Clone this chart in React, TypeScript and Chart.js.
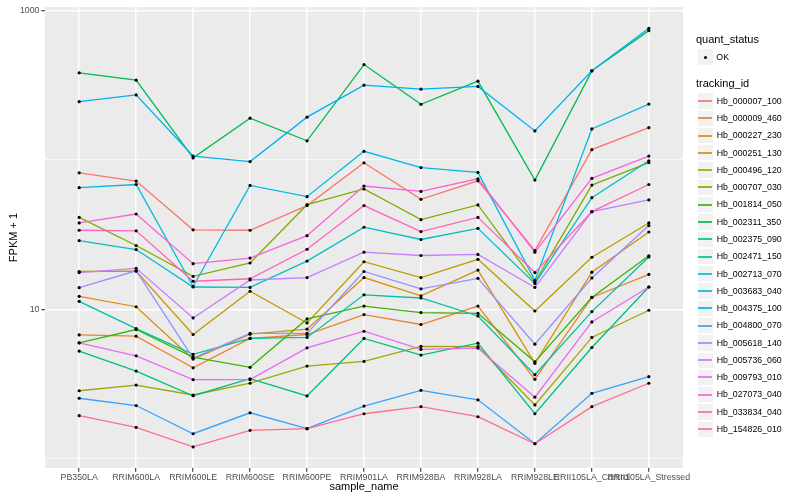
import React, { useEffect, useRef } from "react";
import { Chart, registerables } from "chart.js";

Chart.register(...registerables);

const FONT = "'Liberation Sans', Arial, Helvetica, sans-serif";

const categories = [
  "PB350LA",
  "RRIM600LA",
  "RRIM600LE",
  "RRIM600SE",
  "RRIM600PE",
  "RRIM901LA",
  "RRIM928BA",
  "RRIM928LA",
  "RRIM928LE",
  "RRII105LA_Control",
  "RRII105LA_Stressed",
];

const trackingIds = [
  "Hb_000007_100",
  "Hb_000009_460",
  "Hb_000227_230",
  "Hb_000251_130",
  "Hb_000496_120",
  "Hb_000707_030",
  "Hb_001814_050",
  "Hb_002311_350",
  "Hb_002375_090",
  "Hb_002471_150",
  "Hb_002713_070",
  "Hb_003683_040",
  "Hb_004375_100",
  "Hb_004800_070",
  "Hb_005618_140",
  "Hb_005736_060",
  "Hb_009793_010",
  "Hb_027073_040",
  "Hb_033834_040",
  "Hb_154826_010",
];

const seriesColors = [
  "#F8766D", "#EA8331", "#D89000", "#C09B00", "#A3A500",
  "#7CAE00", "#39B600", "#00BB4E", "#00BF7D", "#00C1A3",
  "#00BFC4", "#00BAE0", "#00B0F6", "#35A2FF", "#9590FF",
  "#C77CFF", "#E76BF3", "#FA62DB", "#FF62BC", "#FF6C91",
];

const quantStatus = ["OK"];

const tickValues = [1, 10, 100, 1000];
const labeledTicks = [10, 1000];

const hb_000007_100 = [81.9, 72.1, 34.0, 33.8, 49.4, 95.5, 54.4, 72.4, 24.7, 117, 164];
const hb_000009_460 = [6.74, 6.61, 4.06, 6.38, 6.78, 9.22, 7.91, 10.5, 3.4, 12.0, 17.1];
const hb_000227_230 = [12.2, 10.4, 4.64, 6.81, 7.36, 16.3, 12.3, 18.3, 4.35, 17.7, 32.9];
const hb_000251_130 = [17.9, 18.0, 6.78, 13.2, 8.1, 20.8, 16.3, 21.6, 9.74, 22.3, 37.8];
const hb_000496_120 = [2.85, 3.11, 2.67, 3.2, 4.17, 4.48, 5.64, 5.62, 2.29, 6.48, 9.85];
const hb_000707_030 = [41.2, 26.7, 16.6, 20.4, 50.1, 63.8, 39.8, 49.9, 15.2, 67.8, 95.9];
const hb_001814_050 = [5.96, 7.32, 4.79, 4.09, 8.62, 10.5, 9.51, 9.4, 4.45, 12.0, 22.8];
const hb_002311_350 = [382, 341, 103, 190, 134, 434, 235, 336, 73.2, 394, 732];
const hb_002375_090 = [5.25, 3.86, 2.64, 3.43, 2.63, 6.38, 4.94, 5.93, 2.0, 5.55, 14.1];
const hb_002471_150 = [11.3, 7.43, 4.99, 6.38, 6.48, 12.5, 11.9, 9.02, 3.65, 9.65, 22.4];
const hb_002713_070 = [28.8, 25.1, 14.1, 14.0, 21.0, 35.4, 29.3, 34.8, 14.9, 55.8, 98.5];
const hb_003683_040 = [65.1, 68.4, 14.2, 67.4, 56.7, 114, 88.8, 82.3, 15.6, 161, 236];
const hb_004375_100 = [245, 272, 106, 97.4, 193, 316, 297, 310, 156, 394, 759];
const hb_004800_070 = [2.54, 2.27, 1.47, 2.03, 1.59, 2.25, 2.87, 2.48, 1.26, 2.74, 3.54];
const hb_005618_140 = [13.95, 18.1, 4.71, 6.89, 6.89, 17.9, 13.7, 16.1, 5.84, 16.2, 36.3];
const hb_005736_060 = [17.6, 18.8, 8.75, 15.7, 16.3, 24.1, 22.9, 23.3, 14.0, 45.0, 53.9];
const hb_009793_010 = [5.96, 4.88, 3.38, 3.38, 5.52, 7.13, 5.39, 5.5, 2.58, 8.23, 14.1];
const hb_027073_040 = [37.8, 43.4, 20.2, 22.0, 31.1, 66.8, 61.5, 74.7, 24.1, 75.1, 106];
const hb_033834_040 = [33.8, 33.5, 15.4, 16.0, 25.2, 49.4, 33.1, 41.2, 17.6, 45.0, 68.4];
const hb_154826_010 = [1.94, 1.62, 1.2, 1.55, 1.59, 2.0, 2.23, 1.91, 1.26, 2.23, 3.2];

const seriesValues = [
  hb_000007_100, hb_000009_460, hb_000227_230, hb_000251_130, hb_000496_120,
  hb_000707_030, hb_001814_050, hb_002311_350, hb_002375_090, hb_002471_150,
  hb_002713_070, hb_003683_040, hb_004375_100, hb_004800_070, hb_005618_140,
  hb_005736_060, hb_009793_010, hb_027073_040, hb_033834_040, hb_154826_010,
];

const panelBackground = {
  id: "panelBackground",
  beforeDraw(chart: any) {
    const { ctx, chartArea } = chart;
    if (!chartArea) return;
    ctx.save();
    ctx.fillStyle = "#EBEBEB";
    ctx.fillRect(chartArea.left, chartArea.top, chartArea.right - chartArea.left, chartArea.bottom - chartArea.top);
    ctx.restore();
  },
};

export default function App() {
  const ref = useRef<HTMLCanvasElement>(null);

  useEffect(() => {
    if (!ref.current) return;
    const lineSets = seriesValues.map((vals, i) => ({
      label: trackingIds[i],
      data: vals.map((v, j) => ({ x: j, y: v })),
      borderColor: seriesColors[i],
      backgroundColor: seriesColors[i],
      borderWidth: 1.3,
      pointRadius: 0,
      fill: false,
      tension: 0,
      order: 100 - i,
    }));
    const pointSets = seriesValues.map((vals, i) => ({
      label: trackingIds[i] + " " + quantStatus[0],
      data: vals.map((v, j) => ({ x: j, y: v })),
      showLine: false,
      pointRadius: 1.6,
      pointBackgroundColor: "#000000",
      pointBorderWidth: 0,
      borderColor: "#000000",
      order: -1,
    }));

    const chart = new Chart(ref.current, {
      type: "line",
      data: { datasets: [...lineSets, ...pointSets] as any },
      plugins: [panelBackground],
      options: {
        animation: false,
        responsive: false,
        events: [],
        layout: { padding: { left: 0, right: 117, top: 5, bottom: 0 } },
        plugins: { legend: { display: false }, tooltip: { enabled: false } },
        scales: {
          x: {
            type: "linear",
            min: -0.6,
            max: 10.6,
            afterBuildTicks: (s: any) => {
              s.ticks = categories.map((_, i) => ({ value: i }));
            },
            afterFit: (s: any) => {
              s.height = 32;
            },
            ticks: {
              autoSkip: false,
              maxRotation: 0,
              minRotation: 0,
              padding: 1,
              color: "#4D4D4D",
              font: { family: FONT, size: 8.8 },
              callback: (v: any) => categories[Math.round(Number(v))] ?? "",
            },
            grid: {
              color: "#FFFFFF",
              lineWidth: 1.4,
              tickColor: "#333333",
              tickLength: 3.7,
              tickWidth: 1.1,
            },
            border: { display: false },
            title: {
              display: true,
              text: "sample_name",
              color: "#000000",
              font: { family: FONT, size: 11 },
              padding: { top: 0, bottom: 6 },
            },
          },
          y: {
            type: "logarithmic",
            min: 0.867,
            max: 1052,
            afterBuildTicks: (s: any) => {
              s.ticks = tickValues.map((v) => ({ value: v }));
            },
            afterFit: (s: any) => {
              s.width = 45;
            },
            ticks: {
              autoSkip: false,
              padding: 1.8,
              color: "#4D4D4D",
              font: { family: FONT, size: 8.8 },
              callback: (v: any) => (labeledTicks.includes(Number(v)) ? String(v) : ""),
            },
            grid: {
              color: "#FFFFFF",
              lineWidth: (c: any) => (c.tick && labeledTicks.includes(c.tick.value) ? 1.4 : 0.7),
              tickColor: (c: any) =>
                c.tick && labeledTicks.includes(c.tick.value) ? "#333333" : "rgba(0,0,0,0)",
              tickLength: 3.7,
              tickWidth: 1.1,
            },
            border: { display: false },
            title: {
              display: true,
              text: "FPKM + 1",
              color: "#000000",
              font: { family: FONT, size: 11 },
              padding: { top: 7, bottom: 0 },
            },
          },
        },
      } as any,
    });
    return () => chart.destroy();
  }, []);

  const rowStep = 17.28;
  const firstRowCenter = 101;

  return (
    <div style={{ position: "absolute", left: 0, top: 0, width: 800, height: 500, background: "#FFFFFF" }}>
      <canvas ref={ref} width={800} height={500} style={{ display: "block", width: 800, height: 500 }} />
      <div
        style={{
          position: "absolute", left: 696, top: 34.2, fontFamily: FONT, fontSize: 11,
          lineHeight: "11px", whiteSpace: "nowrap", color: "#000",
        }}
      >
        quant_status
      </div>
      <div
        style={{
          position: "absolute", left: 696.7, top: 48.4, width: 17.28, height: 17.28,
          background: "#F2F2F2", boxSizing: "border-box", border: "0.7px solid #FFFFFF",
        }}
      />
      <div
        style={{
          position: "absolute", left: 703.5, top: 55.5, width: 3.2, height: 3.2,
          borderRadius: "50%", background: "#000",
        }}
      />
      <div
        style={{
          position: "absolute", left: 716.3, top: 52.7, fontFamily: FONT, fontSize: 8.8,
          lineHeight: "8.8px", whiteSpace: "nowrap", color: "#000",
        }}
      >
        {quantStatus[0]}
      </div>
      <div
        style={{
          position: "absolute", left: 696, top: 77.8, fontFamily: FONT, fontSize: 11,
          lineHeight: "11px", whiteSpace: "nowrap", color: "#000",
        }}
      >
        tracking_id
      </div>
      {trackingIds.map((id, i) => {
        const c = firstRowCenter + i * rowStep;
        const lineTop = Math.round(c) - 1;
        return (
          <React.Fragment key={id}>
            <div
              style={{
                position: "absolute", left: 696.7, top: c - rowStep / 2, width: 17.28, height: 17.28,
                background: "#F2F2F2", boxSizing: "border-box", border: "0.7px solid #FFFFFF",
              }}
            />
            <div
              style={{
                position: "absolute", left: 698, top: lineTop, width: 14, height: 2,
                background: seriesColors[i], opacity: 0.85,
              }}
            />
            <div
              style={{
                position: "absolute", left: 716.7, top: c + 3.15 - 7.45, fontFamily: FONT, fontSize: 8.8,
                lineHeight: "8.8px", whiteSpace: "nowrap", color: "#000",
              }}
            >
              {id}
            </div>
          </React.Fragment>
        );
      })}
    </div>
  );
}
